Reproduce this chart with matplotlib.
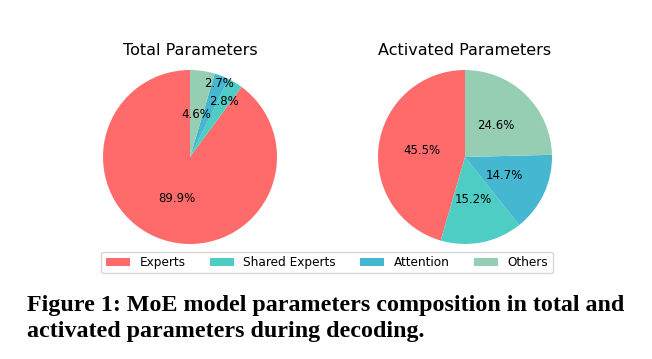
import matplotlib
matplotlib.use("Agg")
import matplotlib.pyplot as plt
from matplotlib.patches import Patch
import numpy as np

# --- DATA ---
categories = ["Experts", "Shared Experts", "Attention", "Others"]
total_pct = [89.9, 2.8, 2.7, 4.6]
activated_pct = [45.5, 15.2, 14.7, 24.6]
colors = ["#FF6B6B", "#4ECDC4", "#45B7D1", "#96CEB4"]

caption_lines = ["Figure 1: MoE model parameters composition in total and",
                 "activated parameters during decoding."]

W, H = 652, 359
fig = plt.figure(figsize=(W / 100, H / 100), dpi=100)


def draw_pie(ax, values, title, label_radius=None):
    wedges, texts, autotexts = ax.pie(values, colors=colors, startangle=90,
                                      autopct="%1.1f%%", pctdistance=0.5,
                                      textprops={"fontsize": 8.5})
    ax.set_xlim(-1, 1)
    ax.set_ylim(-1, 1)
    ax.set_aspect("equal")
    ax.set_title(title, fontsize=11.5, pad=10.8)
    # nudge the thin slices' labels outward so they do not overlap
    if label_radius is not None:
        for w, t, r in zip(wedges, autotexts, label_radius):
            ang = np.deg2rad((w.theta1 + w.theta2) / 2)
            t.set_position((r * np.cos(ang), r * np.sin(ang)))
    return wedges


s = 174
ax1 = fig.add_axes([103 / W, (H - 244) / H, s / W, s / H])
ax2 = fig.add_axes([378 / W, (H - 244) / H, s / W, s / H])
draw_pie(ax1, total_pct, "Total Parameters", label_radius=[0.5, 0.75, 0.91, 0.49])
draw_pie(ax2, activated_pct, "Activated Parameters")

handles = [Patch(facecolor=c, label=l) for c, l in zip(colors, categories)]
fig.legend(handles=handles, loc="center", bbox_to_anchor=(327 / W, 1 - 262.5 / H),
           ncol=4, fontsize=8.7, frameon=True, borderpad=0.35)

# --- CAPTION ---
cap_kw = dict(fontsize=17.3, fontweight="bold", family="Liberation Serif",
              ha="left", va="baseline")
fig.text(27 / W, 1 - 311 / H, caption_lines[0], **cap_kw)
fig.text(27 / W, 1 - 337 / H, caption_lines[1], **cap_kw)

fig.savefig("out.png", dpi=100)
